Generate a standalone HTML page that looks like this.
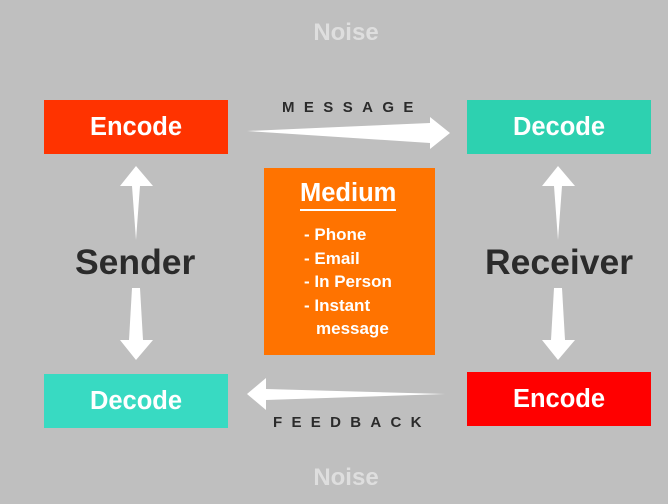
<!DOCTYPE html>
<html><head><meta charset="utf-8"><style>
body{margin:0;width:668px;height:504px;background:#bfbfbf;position:relative;overflow:hidden;font-family:"Liberation Sans",Arial,sans-serif;font-weight:bold}
.b{position:absolute;width:184px;height:54px;color:#fff;font-size:25.5px;display:flex;align-items:center;justify-content:center}
.t{position:absolute;white-space:nowrap}
svg{position:absolute;left:0;top:0}
</style></head><body>
<div class="t" style="left:0;width:692px;text-align:center;top:19px;font-size:24px;color:#dedede">Noise</div>
<div class="t" style="left:0;width:692px;text-align:center;top:464px;font-size:24px;color:#dedede">Noise</div>
<div class="b" style="left:44px;top:100px;background:#ff3300">Encode</div>
<div class="b" style="left:467px;top:100px;background:#2dd1b0">Decode</div>
<div class="b" style="left:44px;top:374px;background:#38dac2">Decode</div>
<div class="b" style="left:467px;top:372px;background:#ff0000">Encode</div>
<div class="t" style="left:282px;top:99px;font-size:15px;letter-spacing:9.4px;color:#2b2b2b">MESSAGE</div>
<div class="t" style="left:273px;top:414px;font-size:15px;letter-spacing:9.3px;color:#2b2b2b">FEEDBACK</div>
<div class="t" style="left:75px;top:242px;font-size:35.5px;color:#2b2b2b">Sender</div>
<div class="t" style="left:485px;top:242px;font-size:35.5px;color:#2b2b2b">Receiver</div>
<div style="position:absolute;left:264px;top:168px;width:171px;height:187px;background:#ff7300;color:#fff">
<div style="position:absolute;left:36px;top:11px;font-size:25.5px;border-bottom:2px solid #fff;padding-bottom:1px">Medium</div>
<div style="position:absolute;left:40px;top:55px;font-size:17px;line-height:23.5px">- Phone<br>- Email<br>- In Person<br>- Instant<br><span style="padding-left:12px">message</span></div>
</div>
<svg width="668" height="504">
<g fill="#fff">
<polygon points="247,131 430,123 430,117 450,133 430,149 430,143"/>
<polygon points="445,394 266,389 266,378 247,394 266,410 266,400"/>
<polygon points="120,186 136,166 153,186 140,186 136,240 132,186"/>
<polygon points="132,288 140,288 143,340 153,340 136,360 120,340 129,340"/>
<polygon points="542,186 558,166 575,186 562,186 558,240 554,186"/>
<polygon points="554,288 562,288 565,340 575,340 558,360 542,340 551,340"/>
</g></svg>
</body></html>
